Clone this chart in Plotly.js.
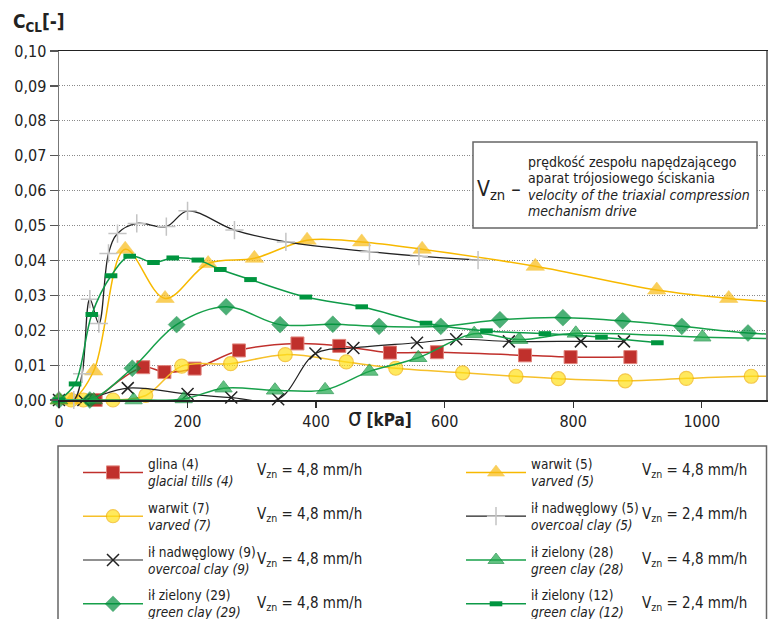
<!DOCTYPE html>
<html><head><meta charset="utf-8">
<script src="https://cdn.plot.ly/plotly-3.0.1.min.js"></script>
<style>html,body{margin:0;padding:0;background:#fff;}#chart{width:775px;height:619px;}</style>
</head><body><div id="chart"></div>
<script>
// ---- data (sigma in kPa, C_CL in -) ----
const glina4_x = [57, 131, 164, 211, 280, 371, 436, 515, 588, 725, 796, 889];
const glina4_y = [0, 0.0094, 0.0080, 0.0090, 0.0142, 0.0162, 0.0155, 0.0136, 0.0137, 0.0128, 0.0123, 0.0123];

const warwit7_x = [19, 38, 84, 135, 191, 267, 352, 447, 524, 628, 711, 777, 881, 976, 1077, 1130];
const warwit7_y = [0, 0, 0, 0.0013, 0.0097, 0.0104, 0.0130, 0.0109, 0.0091, 0.0078, 0.0068, 0.0061, 0.0055, 0.0062, 0.0068, 0.0068];

const il9_x = [0, 38, 107, 200, 268, 341, 399, 458, 557, 618, 700, 812, 879];
const il9_y = [0, 0, 0.0034, 0.0017, 0.0007, 0.0002, 0.0133, 0.0149, 0.0164, 0.0174, 0.0168, 0.0168, 0.0168];

const il29_x = [0, 48, 114, 183, 260, 344, 426, 498, 594, 686, 784, 877, 969, 1072, 1130];
const il29_y = [0, 0, 0.0091, 0.0216, 0.0267, 0.0216, 0.0217, 0.0211, 0.0211, 0.0230, 0.0236, 0.0227, 0.0211, 0.0192, 0.0187];

const warwit5_x = [0, 20, 54, 103, 165, 232, 304, 386, 471, 565, 741, 930, 1042, 1130];
const warwit5_y = [0, 0, 0.0083, 0.0432, 0.0291, 0.0391, 0.0406, 0.0458, 0.0453, 0.0432, 0.0383, 0.0315, 0.0291, 0.0280];

const il5_x = [0, 23, 36, 48, 62, 77, 91, 121, 167, 200, 273, 353, 483, 560, 652];
const il5_y = [0, 0, 0.0075, 0.0289, 0.0219, 0.0420, 0.0477, 0.0506, 0.0497, 0.0542, 0.0487, 0.0453, 0.0425, 0.0412, 0.0401];

const il28_x = [0, 54, 116, 194, 256, 336, 414, 483, 559, 646, 716, 804, 1001, 1130];
const il28_y = [0, 0, 0, 0.0003, 0.0034, 0.0028, 0.0029, 0.0082, 0.0121, 0.0190, 0.0173, 0.0191, 0.0180, 0.0175];

const il12_x = [0, 25, 51, 81, 110, 147, 177, 216, 251, 298, 384, 471, 571, 665, 756, 844, 931];
const il12_y = [0, 0.0046, 0.0245, 0.0356, 0.0412, 0.0394, 0.0407, 0.0401, 0.0374, 0.0345, 0.0295, 0.0267, 0.0220, 0.0198, 0.0190, 0.0180, 0.0164];

const xTicks = [0, 200, 400, 600, 800, 1000];
const names = {
  glina4: 'glina (4)<br><i>glacial tills (4)</i>',
  warwit7: 'warwit (7)<br><i>varved (7)</i>',
  il9: 'ił nadwęglowy (9)<br><i>overcoal clay (9)</i>',
  il29: 'ił zielony (29)<br><i>green clay (29)</i>',
  warwit5: 'warwit (5)<br><i>varved (5)</i>',
  il5: 'ił nadwęglowy (5)<br><i>overcoal clay (5)</i>',
  il28: 'ił zielony (28)<br><i>green clay (28)</i>',
  il12: 'ił zielony (12)<br><i>green clay (12)</i>'
};
const vznLeft = ['4,8', '4,8', '4,8', '4,8'];
const vznRight = ['4,8', '2,4', '4,8', '2,4'];

// ---- styling ----
const FONT = '"DejaVu Sans Condensed", "Liberation Sans Narrow", "Arial Narrow", sans-serif';
const XMAX = 1100;
const L = 59, R = 9, T = 51, B = 219, W = 775, H = 619;
const PW = W - L - R, PH = H - T - B;
const px = v => (v - L) / PW;
const py = v => (H - B - v) / PH;
const sizes = (xs, s) => xs.map(x => x > XMAX ? 0 : s);
const span = (t, s) => '<span style="font-size:' + s + 'px">' + t.split('<br>').join('</span><br><span style="font-size:' + s + 'px">') + '</span>';

function tr(x, y, name, legend, lineColor, lineWidth, marker) {
  return {x: x, y: y, type: 'scatter', mode: 'lines+markers', name: span(name, 13.5),
    legend: legend, legendgroup: name, cliponaxis: false,
    line: {color: lineColor, width: lineWidth, shape: 'spline', smoothing: 1},
    marker: marker, hoverinfo: 'x+y'};
}

const data = [
  tr(glina4_x, glina4_y, names.glina4, 'legend', '#c0302c', 1.5,
     {symbol: 'square', size: 13, color: '#c0302c', line: {color: '#e0847c', width: 1}}),
  tr(warwit7_x, warwit7_y, names.warwit7, 'legend', '#f6c02a', 1.5,
     {symbol: 'circle', size: sizes(warwit7_x, 14), color: '#ffe01a', line: {color: '#f2b300', width: 1.2}}),
  tr(il9_x, il9_y, names.il9, 'legend', '#222222', 1.2,
     {symbol: 'x-thin-open', size: 12, color: '#222222', line: {color: '#222222', width: 1.5}}),
  tr(il29_x, il29_y, names.il29, 'legend', '#17a04a', 1.5,
     {symbol: 'diamond', size: sizes(il29_x, 13), color: '#00903d', line: {color: '#007a33', width: 0.5}}),
  tr(warwit5_x, warwit5_y, names.warwit5, 'legend2', '#f7b900', 1.5,
     {symbol: 'triangle-up', size: sizes(warwit5_x, 16), color: '#f9bc15', line: {color: '#f2b000', width: 0.5}}),
  tr(il5_x, il5_y, names.il5, 'legend2', '#222222', 1.3,
     {symbol: 'cross-thin-open', size: 13, color: '#c4c4c4', line: {color: '#c4c4c4', width: 1.5}}),
  tr(il28_x, il28_y, names.il28, 'legend2', '#17a04a', 1.5,
     {symbol: 'triangle-up', size: sizes(il28_x, 15), color: '#1ea84b', line: {color: '#0b8a38', width: 1}}),
  tr(il12_x, il12_y, names.il12, 'legend2', '#0e9a48', 1.5,
     {symbol: 'line-ew-open', size: 9, color: '#00953f', line: {color: '#00953f', width: 5}})
];

const legendCommon = {
  orientation: 'v', xanchor: 'left', yanchor: 'top', bgcolor: 'rgba(0,0,0,0)', borderwidth: 0,
  font: {family: FONT, size: 13, color: '#222'}, tracegroupgap: 7, itemwidth: 60, valign: 'middle',
  itemclick: false, itemdoubleclick: false
};

const annotations = [
  {xref: 'paper', yref: 'paper', x: px(11), y: py(23), xanchor: 'left', yanchor: 'middle', showarrow: false,
   text: '<b>C<sub>CL</sub>[-]</b>', font: {family: FONT, size: 19, color: '#222'}},
  {xref: 'paper', yref: 'paper', x: px(346), y: py(418), xanchor: 'left', yanchor: 'middle', showarrow: false,
   text: '<span style="font-size:24px">σ</span> <b>[kPa]</b>', font: {family: FONT, size: 17, color: '#222'}},
  {xref: 'paper', yref: 'paper', x: px(475), y: py(190), xanchor: 'left', yanchor: 'middle', showarrow: false,
   text: 'V<sub>zn</sub> –', font: {family: FONT, size: 21, color: '#222'}},
  {xref: 'paper', yref: 'paper', x: px(526), y: py(186), xanchor: 'left', yanchor: 'middle', showarrow: false, align: 'left',
   text: span('prędkość zespołu napędzającego<br>aparat trójosiowego ściskania<br><i>velocity of the triaxial compression</i><br><i>mechanism drive</i>', 14),
   font: {family: FONT, size: 12.5, color: '#222'}}
];
const rowsY = [470, 514, 559, 603];
rowsY.forEach((yy, i) => {
  annotations.push({xref: 'paper', yref: 'paper', x: px(255), y: py(yy), xanchor: 'left', yanchor: 'middle', showarrow: false,
    text: 'V<sub>zn</sub> = ' + vznLeft[i] + ' mm/h', font: {family: FONT, size: 15, color: '#222'}});
  annotations.push({xref: 'paper', yref: 'paper', x: px(640), y: py(yy), xanchor: 'left', yanchor: 'middle', showarrow: false,
    text: 'V<sub>zn</sub> = ' + vznRight[i] + ' mm/h', font: {family: FONT, size: 15, color: '#222'}});
});

const layout = {
  width: W, height: H, margin: {l: L, r: R, t: T, b: B, pad: 0, autoexpand: false},
  paper_bgcolor: '#fff', plot_bgcolor: '#fff', showlegend: true,
  separators: ', ',
  font: {family: FONT, size: 16, color: '#222'},
  xaxis: {range: [0, XMAX], tickvals: xTicks, ticks: 'outside', ticklen: 6, tickwidth: 1.2, tickcolor: '#333',
          showline: true, linecolor: '#222', linewidth: 1.5, mirror: true, showgrid: false, zeroline: false,
          tickfont: {family: FONT, size: 16, color: '#222'}, fixedrange: true, automargin: false},
  yaxis: {range: [0, 0.1], dtick: 0.01, tick0: 0, tickformat: '.2f', ticks: 'outside', ticklen: 8, tickwidth: 1.2, tickcolor: '#555',
          showline: true, linecolor: '#777', linewidth: 1.5, mirror: true, showgrid: true, gridcolor: '#8a8a8a',
          griddash: '1px,1.5px', gridwidth: 1, zeroline: false, tickfont: {family: FONT, size: 16, color: '#222'}, fixedrange: true, automargin: false},
  legend: Object.assign({}, legendCommon, {x: px(78), y: py(449)}),
  legend2: Object.assign({}, legendCommon, {x: px(461), y: py(449)}),
  annotations: annotations,
  shapes: [
    {type: 'rect', xref: 'paper', yref: 'paper', x0: px(473), x1: px(757), y0: py(228), y1: py(142),
     fillcolor: '#fff', line: {color: '#666', width: 1.5}, layer: 'above'},
    {type: 'rect', xref: 'paper', yref: 'paper', x0: px(58), x1: px(766.5), y0: py(640), y1: py(446),
     fillcolor: 'rgba(0,0,0,0)', line: {color: '#666', width: 1.5}, layer: 'above'}
  ]
};

Plotly.newPlot('chart', data, layout, {staticPlot: true, displayModeBar: false});
</script></body></html>
